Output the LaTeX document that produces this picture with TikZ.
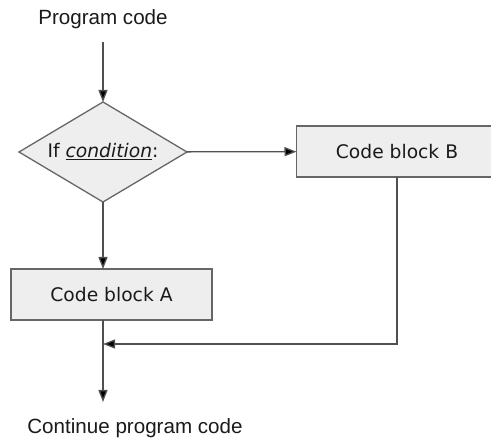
\documentclass[tikz,border=0pt]{standalone}
\usepackage{fontspec}
\setmainfont{DejaVu Sans}
\newfontfamily\labelfont{Liberation Sans}
\usetikzlibrary{shapes.geometric,arrows.meta}
\definecolor{boxfill}{HTML}{EEEEEE}
\definecolor{boxline}{HTML}{666666}
\definecolor{flowline}{HTML}{505050}
\definecolor{inkcol}{HTML}{1A1A1A}
\begin{document}
\begin{tikzpicture}[x=1pt,y=-1pt,
  block/.style={rectangle, draw=boxline, fill=boxfill, line width=1.3pt, text=inkcol,
    minimum width=201pt, minimum height=51pt, inner sep=0pt, outer sep=0pt,
    font=\fontsize{18.7}{22}\selectfont},
  decision/.style={diamond, draw=boxline, fill=boxfill, line width=1.3pt, text=inkcol,
    aspect=1.68, minimum width=168pt, minimum height=100pt, inner sep=0pt, outer sep=0pt,
    font=\fontsize{18.7}{22}\selectfont},
  label/.style={text=inkcol, font=\labelfont\fontsize{20.6}{24}\selectfont},
  flow/.style={draw=flowline, line width=1.3pt, -{Triangle[length=12pt,width=9pt,fill=black]}}]

\useasboundingbox (0,0) rectangle (491,441);

\node[label] (prog) at (103,19) {Program code};
\node[decision] (cond) at (103,152) {If \underline{\textit{condition}}:};
\node[block] (B) at (397,151.5) {Code block B};
\node[block] (A) at (111.5,294.5) {Code block A};
\node[label] (cont) at (135,428) {Continue program code};

\coordinate (join) at (103,344);
\coordinate (out) at (103,402);

\draw[flow, shorten <=10pt] (prog) -- (cond);
\draw[flow] (cond) -- (B);
\draw[flow] (cond.south) -- (cond.south |- A.north);
\draw[flow] (B.south) |- (join);
\draw[flow] (cond.south |- A.south) -- (out);

\end{tikzpicture}
\end{document}
